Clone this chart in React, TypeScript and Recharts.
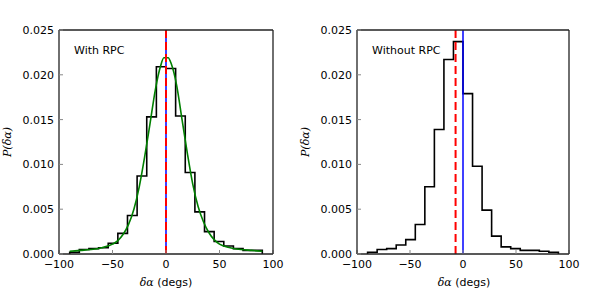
import React from "react";
import { ComposedChart, Line, XAxis, YAxis, ReferenceLine } from "recharts";

// bin edges shared by both histograms (degrees)
const binEdges = [-90, -81, -72, -63, -54, -45, -36, -27, -18, -9, 0, 9, 18, 27, 36, 45, 54, 63, 72, 81, 90];

const withRpc = [
    0.0002, 0.0005, 0.0006, 0.0007, 0.0012, 0.0023, 0.0043, 0.0087, 0.0153, 0.0209,
    0.0207, 0.0154, 0.0091, 0.0047, 0.0025, 0.0014, 0.0009, 0.0006, 0.0004, 0.0004,
];

const withoutRpc = [
    0.0002, 0.0005, 0.0006, 0.001, 0.0016, 0.0033, 0.0075, 0.0139, 0.0217, 0.0237,
    0.0179, 0.0098, 0.0049, 0.002, 0.0008, 0.0006, 0.0004, 0.0004, 0.0003, 0.0002,
];

// fitted curve on the left panel
const fitX = [-90, -80, -70, -60, -50, -45, -40, -35, -30, -25, -20, -15, -10, -5, -2, 0, 2, 5, 10, 15, 20, 25, 30, 35, 40, 45, 50, 60, 70, 80, 90];
const fitY = [
    0.0003, 0.0004, 0.0005, 0.0007, 0.0011, 0.0015, 0.0022, 0.0033, 0.005, 0.0075, 0.0108, 0.0145, 0.0183, 0.021, 0.0219, 0.0219,
    0.0219, 0.0212, 0.0188, 0.015, 0.0112, 0.0078, 0.0053, 0.0036, 0.0024, 0.0016, 0.0011, 0.0007, 0.0005, 0.0004, 0.0003,
];

const xTicks = [-100, -50, 0, 50, 100];
const yTicks = [0, 0.005, 0.01, 0.015, 0.02, 0.025];

const leftMean = 0;
const rightMean = -7;

const font = "'DejaVu Sans', sans-serif";
const tickStyle = { fontSize: 11, fill: "#000", fontFamily: font };
const frame = { stroke: "#222", strokeWidth: 1.3 };
const tickLn = { stroke: "#888" };

function stepPoints(values: number[]) {
    const pts: { x: number; y: number }[] = [{ x: binEdges[0], y: 0 }];
    values.forEach((v, i) => {
        pts.push({ x: binEdges[i], y: v });
        pts.push({ x: binEdges[i + 1], y: v });
    });
    pts.push({ x: binEdges[binEdges.length - 1], y: 0 });
    return pts;
}

const fmtX = (v: number) => (v < 0 ? "\u2212" + Math.abs(v) : String(v));
const fmtY = (v: number) => v.toFixed(3);
const blank = () => "";

function Panel({ values, fit, mean, rightMargin }: { values: number[]; fit: boolean; mean: number; rightMargin: number }) {
    const fitData = fitX.map((x, i) => ({ x, y: fitY[i] }));
    return (
        <ComposedChart width={300} height={300} margin={{ top: 29, right: rightMargin, bottom: 0, left: 0 }}>
            <XAxis xAxisId="b" type="number" dataKey="x" domain={[-100, 100]} ticks={xTicks} height={46}
                tickSize={-4} tickMargin={10} tickFormatter={fmtX} tick={tickStyle}
                axisLine={frame} tickLine={tickLn} />
            <XAxis xAxisId="t" orientation="top" type="number" dataKey="x" domain={[-100, 100]} ticks={xTicks}
                height={1} tickSize={-4} tickFormatter={blank}
                axisLine={frame} tickLine={tickLn} />
            <YAxis yAxisId="l" type="number" domain={[0, 0.025]} ticks={yTicks} width={59}
                tickSize={-4} tickMargin={9} tickFormatter={fmtY} tick={tickStyle}
                axisLine={frame} tickLine={tickLn} />
            <YAxis yAxisId="r" orientation="right" type="number" domain={[0, 0.025]} ticks={yTicks} width={1}
                tickSize={-4} tickFormatter={blank}
                axisLine={frame} tickLine={tickLn} />
            <Line xAxisId="b" yAxisId="l" data={stepPoints(values)} dataKey="y" type="linear"
                stroke="#000" strokeWidth={1.6} dot={false} isAnimationActive={false} />
            {fit && (
                <Line xAxisId="b" yAxisId="l" data={fitData} dataKey="y" type="monotone"
                    stroke="#008000" strokeWidth={1.6} dot={false} isAnimationActive={false} />
            )}
            <ReferenceLine xAxisId="b" yAxisId="l" x={0} stroke="#0000ff" strokeWidth={1.5} />
            <ReferenceLine xAxisId="b" yAxisId="l" x={mean} stroke="#ff0000" strokeWidth={2} strokeDasharray="8 4" />
        </ComposedChart>
    );
}

function Texts({ left, title }: { left: number; title: string }) {
    return (
        <>
            <div style={{ position: "absolute", left: left + 74, top: 44, fontFamily: font, fontSize: 11, lineHeight: "14px" }}>
                {title}
            </div>
            <div style={{ position: "absolute", left: left + 116, top: 276, width: 100, textAlign: "center", fontFamily: font, fontSize: 11, lineHeight: "14px" }}>
                <span style={{ fontFamily: "'DejaVu Serif', serif", fontStyle: "italic" }}>δα</span> (degs)
            </div>
            <div style={{ position: "absolute", left: left - 42, top: 135, width: 100, textAlign: "center", fontFamily: "'DejaVu Serif', serif", fontStyle: "italic", fontSize: 11, lineHeight: "14px", transform: "rotate(-90deg)" }}>
                P(δα)
            </div>
        </>
    );
}

export default function App() {
    return (
        <div style={{ position: "absolute", left: 0, top: 0, width: 600, height: 300, background: "#fff" }}>
            <div style={{ position: "absolute", left: 0, top: 0 }}>
                <Panel values={withRpc} fit={true} mean={leftMean} rightMargin={26} />
            </div>
            <div style={{ position: "absolute", left: 298, top: 0 }}>
                <Panel values={withoutRpc} fit={false} mean={rightMean} rightMargin={28} />
            </div>
            <Texts left={0} title="With RPC" />
            <Texts left={298} title="Without RPC" />
        </div>
    );
}
